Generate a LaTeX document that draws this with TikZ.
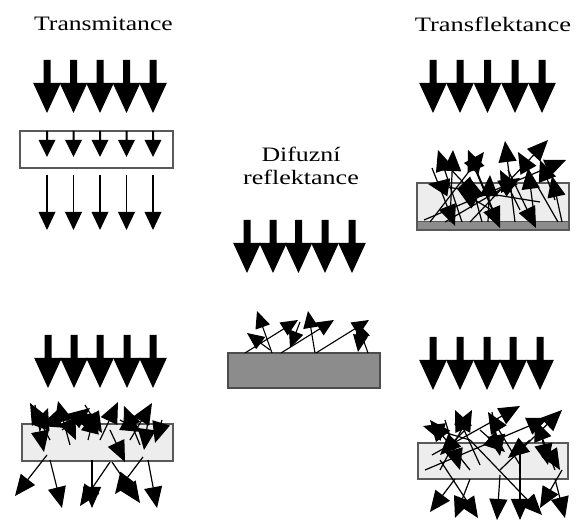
\documentclass[tikz,border=0pt]{standalone}
\usepackage{fontspec}
\setmainfont{Liberation Serif}
\usetikzlibrary{arrows.meta}

\tikzset{
  % broad incident beam: thick shaft with a wide triangular head
  bigdown/.pic={\fill[black] (-3.5,0) -- (3.5,0) -- (3.5,23) -- (13.8,23) -- (0,53) -- (-13.8,23) -- (-3.5,23) -- cycle;},
  % small beam inside the transparent sample
  smalldown/.pic={\fill[black] (-1,0) -- (1,0) -- (1,9) -- (8.5,9) -- (0,26) -- (-8.5,9) -- (-1,9) -- cycle;},
  % transmitted beam
  thindown/.pic={\draw[line width=1.4pt] (0,0) -- (0,38); \fill[black] (-8.5,37) -- (8.5,37) -- (0,55) -- cycle;},
  ray/.style={line width=1.2pt, -{Triangle[length=21pt 0 0,width=18pt 0 0]}},
  shortray/.style={line width=1.1pt, -{Triangle[length=17pt 0 0,width=15pt 0 0]}},
  sample/.style={draw=black!65, line width=1.3pt, fill=black!7},
  label/.style={anchor=base, font=\fontsize{20.5}{24}\selectfont},
}

\begin{document}
\begin{tikzpicture}[x=1pt,y=-1pt]
\useasboundingbox (0,0) rectangle (576,526);

% ---------- titles ----------
\node[label] (tTrans) at (103.5,31) {\scalebox{1.25}[1]{Transmitance}};
\node[label] (tTransfl) at (493,32) {\scalebox{1.29}[1]{Transflektance}};
\node[label] (tDif1) at (301,162) {\scalebox{1.26}[1]{Difuzní}};
\node[label] (tDif2) at (301,185) {\scalebox{1.27}[1]{reflektance}};

% ---------- transmittance through a clear sample ----------
\foreach \x in {47,73.5,100,126.5,153} \pic at (\x,60) {bigdown};
\draw[draw=black!65, line width=1.4pt, fill=white] (20,131) rectangle (173,168);
\foreach \x in {47,73.5,100,126.5,153} \pic at (\x,131) {smalldown};
\foreach \x in {47,73.5,100,126.5,153} \pic at (\x,175) {thindown};

% ---------- transflectance ----------
\foreach \x in {433,460,487.5,515,542} \pic at (\x,60) {bigdown};
\fill[black!7] (417,183) rectangle (569,222);
\fill[black!45] (417,222) rectangle (569,230);
\draw[draw=black!65, line width=1.3pt] (417,183) rectangle (569,230);
\draw[black!65, line width=1pt] (417,222) -- (569,222);
\draw[ray] (462,222) -- (438,150);
\draw[ray] (450,222) -- (453,150);
\draw[ray] (498,222) -- (468,150);
\draw[ray] (430,222) -- (484,152);
\draw[ray] (515,222) -- (505,141);
\draw[ray] (558,222) -- (518,152);
\draw[ray] (470,222) -- (548,140);
\draw[ray] (424,220) -- (566,160);
\draw[ray] (562,222) -- (552,176);
\draw[ray] (432,168) -- (455,226);
\draw[ray] (472,162) -- (500,228);
\draw[ray] (508,170) -- (536,228);
\draw[ray] (540,202) -- (428,184);
\draw[ray] (482,222) -- (470,178);
\draw[ray] (440,158) -- (478,198);
\draw[ray] (520,210) -- (500,170);
\draw[ray] (445,222) -- (520,178);
\draw[ray] (500,215) -- (458,190);
\draw[ray] (535,222) -- (528,168);
\draw[ray] (555,200) -- (540,160);
\draw[ray] (488,222) -- (490,175);

% ---------- diffuse reflectance ----------
\foreach \x in {247,273,298.5,325,352} \pic at (\x,220) {bigdown};
\draw[draw=black!70, line width=1.3pt, fill=black!45] (228,353) rectangle (380,388);
\draw[shortray] (245,353) -- (298,320);
\draw[shortray] (281,353) -- (334,320);
\draw[shortray] (316,353) -- (369,320);
\draw[shortray] (272,353) -- (257,311);
\draw[shortray] (270,350) -- (247,333);
\draw[shortray] (300,322) -- (290,348);
\draw[shortray] (315,353) -- (308,311);
\draw[shortray] (368,353) -- (357,322);
\draw[shortray] (362,326) -- (358,352);

% ---------- diffuse transmittance ----------
\foreach \x in {48,74,100,127,153} \pic at (\x,335) {bigdown};
\draw[sample] (22,424) rectangle (173,461);
% scattered near the surface
\draw[ray] (50,440) -- (30,403);
\draw[ray] (70,445) -- (58,401);
\draw[ray] (62,430) -- (90,408);
\draw[ray] (100,440) -- (118,402);
\draw[ray] (140,445) -- (124,406);
\draw[ray] (130,440) -- (152,403);
\draw[ray] (80,412) -- (40,426);
\draw[ray] (35,405) -- (44,452);
\draw[ray] (60,405) -- (76,440);
\draw[ray] (85,405) -- (102,433);
\draw[ray] (110,430) -- (125,462);
\draw[ray] (150,405) -- (144,450);
\draw[ray] (162,420) -- (155,443);
\draw[ray] (100,425) -- (72,415);
\draw[ray] (40,430) -- (48,408);
\draw[ray] (120,420) -- (142,432);
\draw[ray] (88,440) -- (95,412);
% leaving the sample
\draw[ray] (47,455) -- (15,496);
\draw[ray] (50,460) -- (62,508);
\draw[ray] (92,460) -- (92,508);
\draw[ray] (110,462) -- (80,506);
\draw[ray] (112,462) -- (140,503);
\draw[ray] (143,457) -- (115,494);
\draw[ray] (148,460) -- (157,508);

% ---------- diffuse transflectance ----------
\foreach \x in {433,460,487,513,540} \pic at (\x,337) {bigdown};
\draw[sample] (418,443) rectangle (568,479);
% scattered back out of the sample
\draw[ray] (470,470) -- (430,420);
\draw[ray] (480,465) -- (455,410);
\draw[ray] (440,470) -- (472,410);
\draw[ray] (520,465) -- (488,412);
\draw[ray] (432,455) -- (520,406);
\draw[ray] (555,470) -- (535,420);
\draw[ray] (500,470) -- (562,410);
\draw[ray] (470,440) -- (423,426);
\draw[ray] (425,470) -- (548,418);
% scattered inside the sample
\draw[ray] (445,420) -- (460,470);
\draw[ray] (492,412) -- (500,456);
\draw[ray] (538,420) -- (548,465);
\draw[ray] (480,430) -- (505,452);
\draw[ray] (530,440) -- (508,458);
\draw[ray] (465,430) -- (440,455);
\draw[ray] (548,450) -- (560,470);
% leaving through the bottom
\draw[ray] (455,479) -- (430,512);
\draw[ray] (470,479) -- (455,518);
\draw[ray] (440,460) -- (478,518);
\draw[ray] (500,475) -- (497,520);
\draw[ray] (520,445) -- (520,520);
\draw[ray] (470,440) -- (542,515);
\draw[ray] (555,479) -- (565,518);
\draw[ray] (562,470) -- (540,508);
\end{tikzpicture}
\end{document}
